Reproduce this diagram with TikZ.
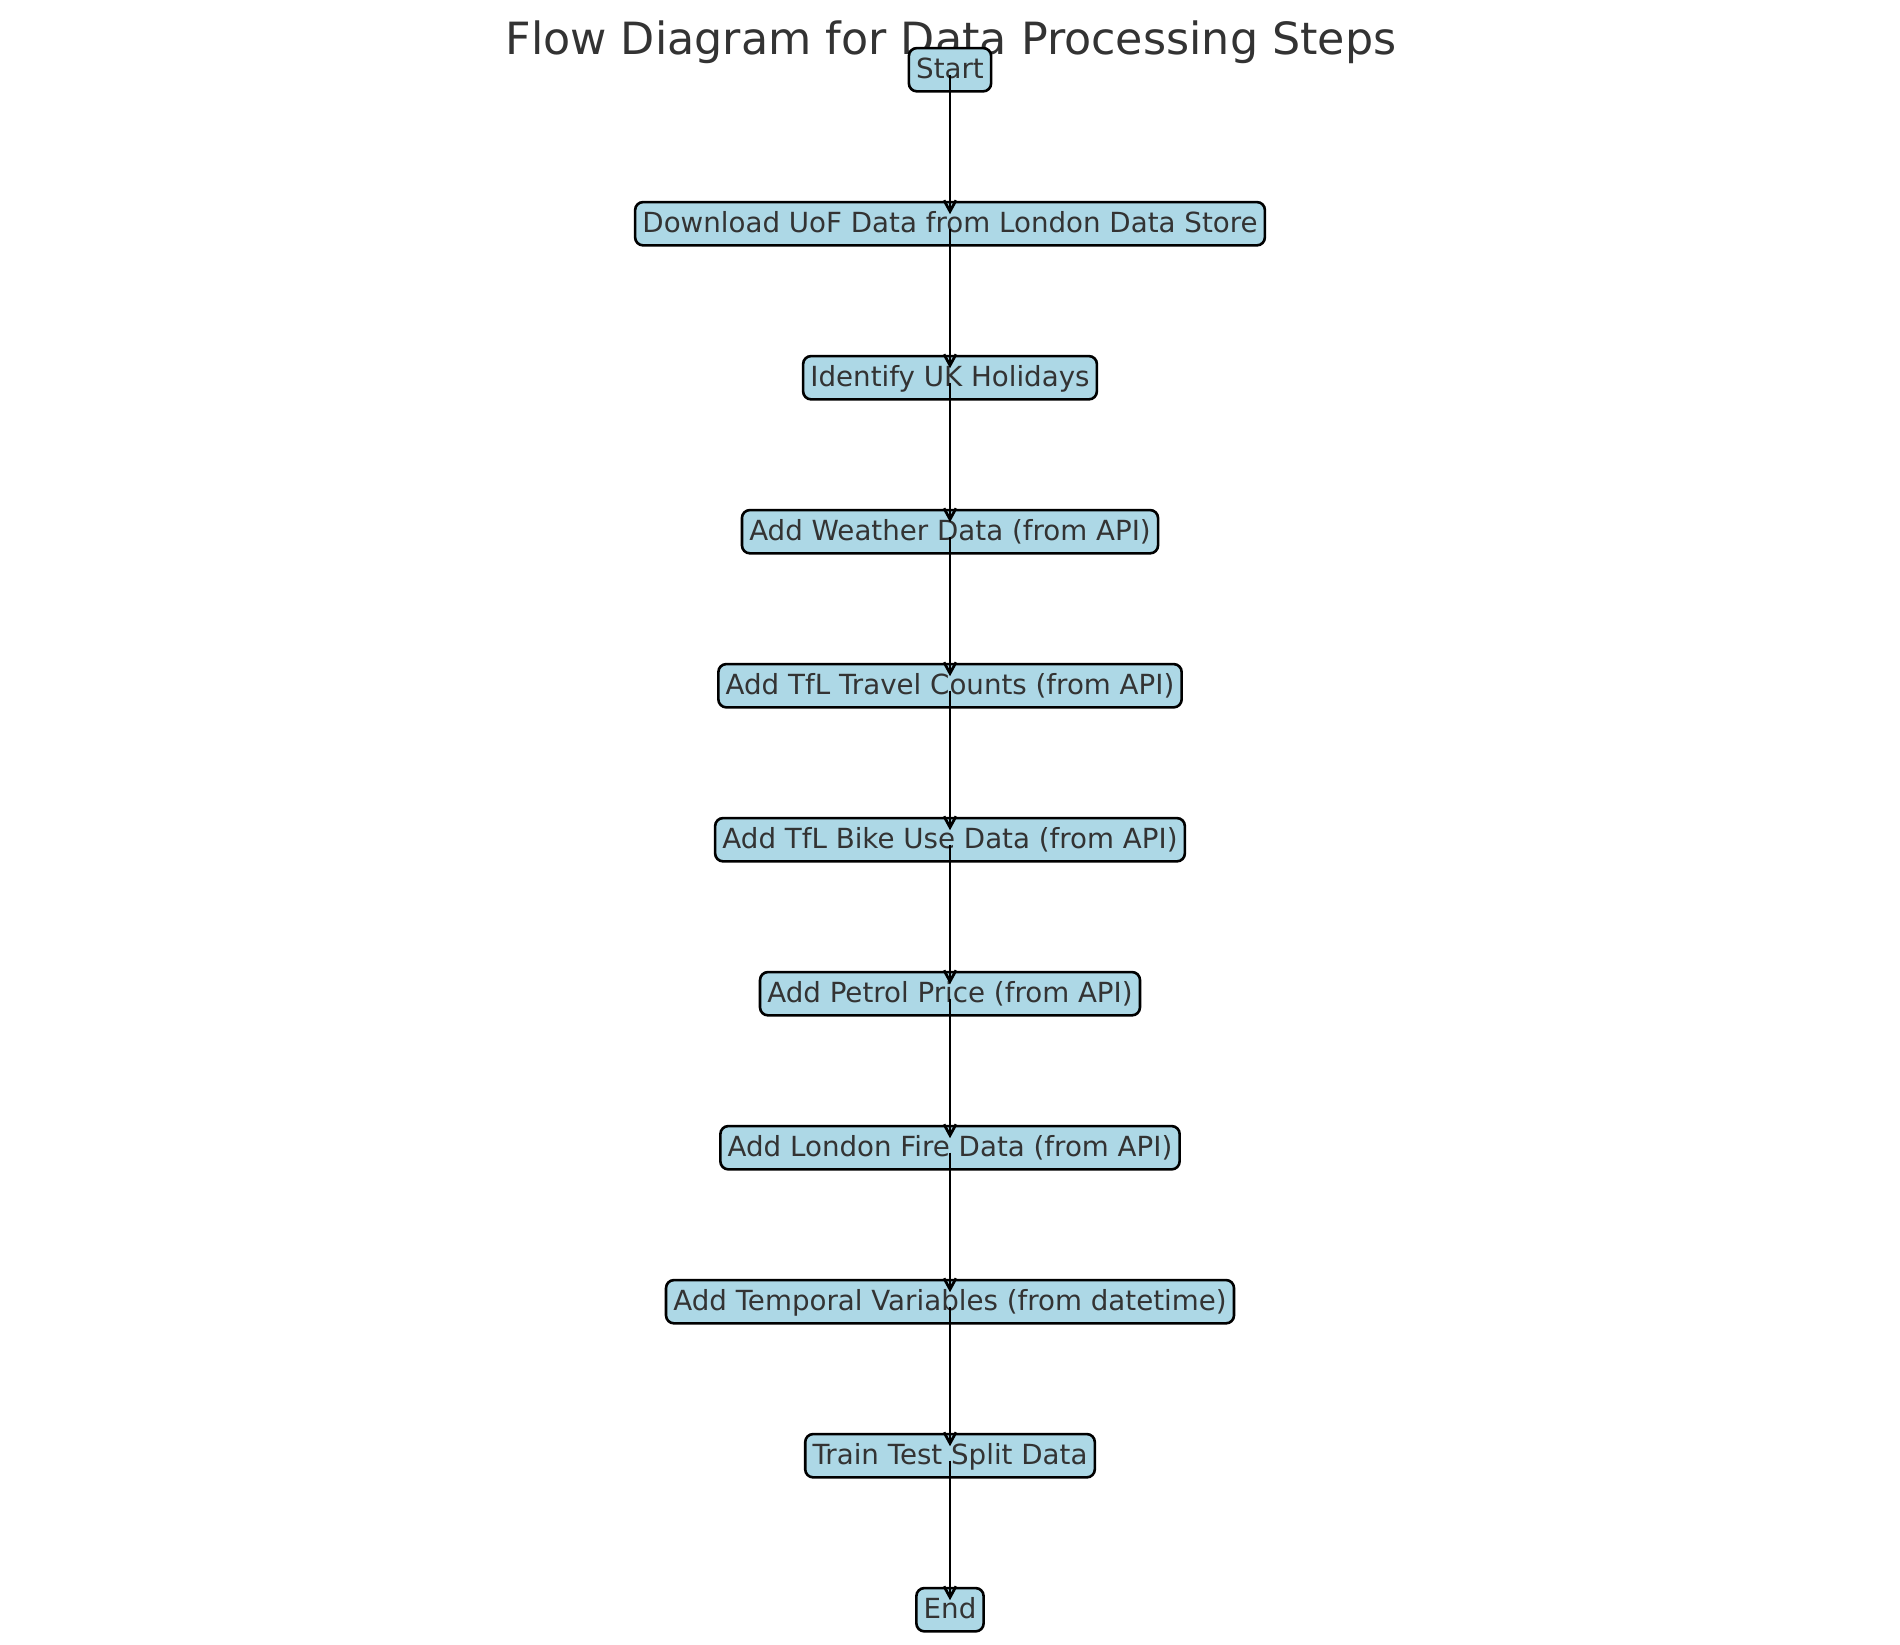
\documentclass[tikz,border=0pt]{standalone}
\usepackage{fontspec}
\setmainfont{DejaVu Sans}
\usetikzlibrary{arrows.meta}
\definecolor{boxfill}{RGB}{173,216,230}
\definecolor{txtgray}{RGB}{51,51,51}
\tikzset{
  stepbox/.style={draw=black, fill=boxfill, rounded corners=8pt, line width=2.6pt,
    inner xsep=7.3pt, inner ysep=7.3pt, text height=23.2pt, text depth=5.5pt,
    font=\fontsize{27.7}{33}\selectfont, text=txtgray},
  titletext/.style={font=\fontsize{44.4}{53}\selectfont, text=txtgray, inner sep=0pt, anchor=base},
  flowarrow/.style={draw=black, line width=2.8pt, -{Straight Barb[length=11pt,width=12pt]}}
}
\begin{document}
\begin{tikzpicture}[x=1pt,y=-1pt]
\path[fill=white,use as bounding box] (0,0) rectangle (1900,1644);
\node[titletext] (title) at (951,54.3) {Flow Diagram for Data Processing Steps};
\node[stepbox] (n0) at (950,69.7) {Start};
\node[stepbox] (n1) at (950,223.7) {Download UoF Data from London Data Store};
\node[stepbox] (n2) at (950,377.7) {Identify UK Holidays};
\node[stepbox] (n3) at (950,531.7) {Add Weather Data (from API)};
\node[stepbox] (n4) at (950,685.7) {Add TfL Travel Counts (from API)};
\node[stepbox] (n5) at (950,839.7) {Add TfL Bike Use Data (from API)};
\node[stepbox] (n6) at (950,993.7) {Add Petrol Price (from API)};
\node[stepbox] (n7) at (950,1147.7) {Add London Fire Data (from API)};
\node[stepbox] (n8) at (950,1301.7) {Add Temporal Variables (from datetime)};
\node[stepbox] (n9) at (950,1455.7) {Train Test Split Data};
\node[stepbox] (n10) at (950,1609.7) {End};
\foreach \a/\b in {n0/n1,n1/n2,n2/n3,n3/n4,n4/n5,n5/n6,n6/n7,n7/n8,n8/n9,n9/n10}{
  \draw[flowarrow] ([yshift=-5pt]\a.center) -- ([yshift=9.5pt]\b.center);
}
\end{tikzpicture}
\end{document}
